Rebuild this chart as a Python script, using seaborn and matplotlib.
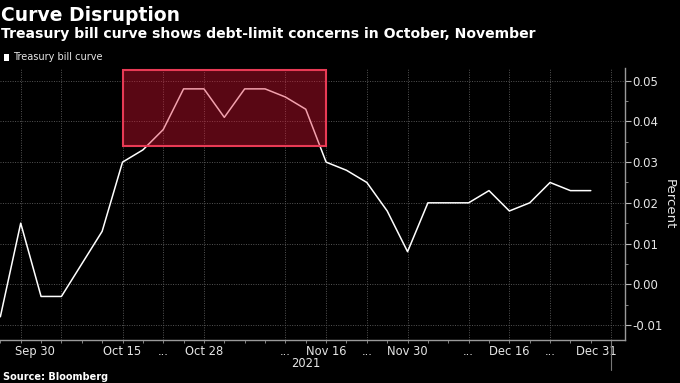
import matplotlib
matplotlib.use("Agg")
import matplotlib.pyplot as plt
import matplotlib.transforms as mtransforms
from matplotlib.patches import Rectangle, Patch
import seaborn as sns
import pandas as pd
import numpy as np

# 数据（按交易日顺序，横轴为等距类别）
curve_values = [-0.008, 0.015, -0.003, -0.003, 0.005, 0.013, 0.030, 0.033, 0.038, 0.048,
                0.048, 0.041, 0.048, 0.048, 0.046, 0.043, 0.030, 0.028, 0.025, 0.018,
                0.008, 0.020, 0.020, 0.020, 0.023, 0.018, 0.020, 0.025, 0.023, 0.023]
tick_index = [1, 6, 8, 10, 14, 16, 18, 20, 23, 25, 27, 29]
tick_labels = ["Sep 30", "Oct 15", "...", "Oct 28", "...", "Nov 16", "...",
               "Nov 30", "...", "Dec 16", "...", "Dec 31"]
grid_index = [1, 3, 6, 8, 10, 14, 16, 18, 20, 23, 25, 27, 30]
y_ticks = [-0.01, 0.00, 0.01, 0.02, 0.03, 0.04, 0.05]

# 高亮区域（债务上限担忧期）
box_start, box_end = 6, 16
box_low, box_high = 0.034, 0.0526

df = pd.DataFrame({"idx": np.arange(len(curve_values)), "value": curve_values})

sns.set_theme(style="dark")
plt.rcParams['font.family'] = ['DejaVu Sans']
plt.rcParams['axes.unicode_minus'] = False

fig = plt.figure(figsize=(6.8, 3.83), dpi=100, facecolor="black")
ax = fig.add_axes([0.0, 1 - 340 / 383, 625 / 680, (340 - 67.7) / 383])
ax.set_facecolor("black")

# 网格线
for v in y_ticks:
    ax.axhline(v, color="#555555", lw=0.7, ls=(0, (1, 1.5)), zorder=1)
for g in grid_index:
    ax.axvline(g, color="#555555", lw=0.7, ls=(0, (1, 1.5)), zorder=1)
ax.axvline(30, ymin=-0.11, ymax=0, color="#777777", lw=0.8, clip_on=False)

# 曲线
sns.lineplot(data=df, x="idx", y="value", color="white", lw=1.1, ax=ax,
             zorder=3, legend=False)

# 高亮框
ax.add_patch(Rectangle((box_start, box_low), box_end - box_start, box_high - box_low,
                       facecolor=(0.88, 0.08, 0.2, 0.4), edgecolor="#e83a55",
                       lw=1.5, zorder=4))

ax.set_xlim(-0.017, 30.68)
ax.set_ylim(-0.0137, 0.0532)

# 坐标轴
for s in ["left", "top"]:
    ax.spines[s].set_visible(False)
for s in ["right", "bottom"]:
    ax.spines[s].set_visible(True)
    ax.spines[s].set_color("#9a9a9a")
    ax.spines[s].set_linewidth(1.0)

ax.yaxis.tick_right()
ax.yaxis.set_label_position("right")
ax.set_yticks(y_ticks)
ax.set_yticklabels([f"{v:.2f}" for v in y_ticks])
ax.set_yticks(np.arange(-0.01, 0.055, 0.005), minor=True)
ax.tick_params(axis="y", which="major", right=True, length=4, width=0.8,
               color="#bbbbbb", labelcolor="#e6e6e6", labelsize=8.5, pad=1.5)
ax.tick_params(axis="y", which="minor", right=True, length=2, width=0.6, color="#999999")

ax.set_xticks(tick_index)
ax.set_xticklabels(tick_labels)
ax.set_xticks(np.arange(0, 31), minor=True)
ax.tick_params(axis="x", which="major", bottom=True, length=2.5, width=0.6,
               color="#999999", labelcolor="#e6e6e6", labelsize=8.3, pad=1)
ax.tick_params(axis="x", which="minor", bottom=True, length=2.5, width=0.6, color="#999999")
ax.grid(False)

# 首尾标签微调位置
labels = ax.get_xticklabels()
labels[0].set_transform(labels[0].get_transform() +
                        mtransforms.ScaledTranslation(0.14, 0, fig.dpi_scale_trans))
labels[-1].set_transform(labels[-1].get_transform() +
                         mtransforms.ScaledTranslation(0.06, 0, fig.dpi_scale_trans))

ax.set_xlabel("")
ax.set_ylabel("Percent", rotation=270, color="#e6e6e6", fontsize=9.5, labelpad=9)

# 年份标注
year_trans = mtransforms.blended_transform_factory(ax.transData, ax.transAxes)
ax.text(15, -0.1, "2021", transform=year_trans, ha="center", va="baseline",
        color="#e6e6e6", fontsize=8.3)

# 图例
ax.legend(handles=[Patch(facecolor="white", edgecolor="none", label="Treasury bill curve")],
          loc="center left", bbox_to_anchor=(0.006, 1 - 57.5 / 383),
          bbox_transform=fig.transFigure, frameon=False, fontsize=7,
          handlelength=0.55, handleheight=0.75, handletextpad=0.35,
          borderpad=0, borderaxespad=0, labelcolor="#e6e6e6")

# 标题
fig.text(0.002, 1 - 20.7 / 383, "Curve Disruption", color="white",
         fontsize=13.5, fontweight="bold", va="baseline", ha="left")
fig.text(0.002, 1 - 38.3 / 383, "Treasury bill curve shows debt-limit concerns in October, November",
         color="white", fontsize=10.1, fontweight="bold", va="baseline", ha="left")
fig.text(0.004, 1 - 380 / 383, "Source: Bloomberg", color="white",
         fontsize=7, fontweight="bold", va="baseline", ha="left")

plt.savefig("out.png", dpi=100, facecolor="black")
plt.close()
